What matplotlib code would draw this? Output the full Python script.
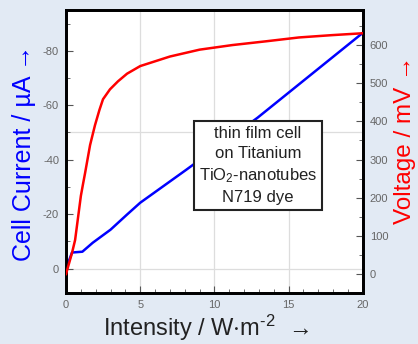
import numpy as np
import matplotlib.pyplot as plt
from matplotlib.ticker import MultipleLocator

plt.rcParams['font.family'] = ['Liberation Sans', 'DejaVu Sans']
plt.rcParams['mathtext.fontset'] = 'custom'
plt.rcParams['mathtext.rm'] = 'Liberation Sans'
plt.rcParams['mathtext.it'] = 'Liberation Sans'
plt.rcParams['mathtext.default'] = 'regular'
plt.rcParams['axes.unicode_minus'] = False

# cell current (left axis, uA) vs intensity (W/m^2)
current_x = [0, 0.4, 1.1, 1.8, 3.0, 4.1, 5.0, 8.1, 12.9, 20.0]
current_y = [0, -5.9, -6.2, -9.5, -14.3, -19.8, -24.2, -36.3, -55.4, -86.6]

# voltage (right axis, mV) vs intensity
voltage_x = [0, 0.13, 0.4, 0.61, 1.0, 1.14, 1.28, 1.62, 1.95, 2.25, 2.49, 2.96, 3.5,
             4.11, 5.0, 7.0, 9.0, 11.2, 13.5, 15.7, 17.9, 20.0]
voltage_y = [0, 18, 55, 89, 205, 235, 264, 338, 390, 430, 458, 484, 505,
             525, 545, 570, 588, 600, 610, 620, 626, 631]

box_text = "thin film cell\non Titanium\nTiO$_2$-nanotubes\nN719 dye"

fig = plt.figure(figsize=(4.18, 3.44), dpi=100)
fig.patch.set_facecolor('#e2eaf4')
ax = fig.add_axes([0.158, 0.148, 0.710, 0.823])
ax2 = ax.twinx()

ax.plot(current_x, current_y, color='blue', lw=1.8, zorder=3)
ax2.plot(voltage_x, voltage_y, color='red', lw=1.8, zorder=3)

ax.set_xlim(0, 20)
ax.set_ylim(9, -95)
ax2.set_ylim(-50, 692)

# light grid
for gx in [5, 10, 15]:
    ax.axvline(gx, color='#dddddd', lw=0.9, zorder=1)
for gy in [0, -50]:
    ax.axhline(gy, color='#dddddd', lw=0.9, zorder=1)

ax.xaxis.set_major_locator(MultipleLocator(5))
ax.xaxis.set_minor_locator(MultipleLocator(1))
ax.yaxis.set_major_locator(MultipleLocator(20))
ax.yaxis.set_minor_locator(MultipleLocator(10))
ax2.yaxis.set_major_locator(MultipleLocator(100))
ax2.yaxis.set_minor_locator(MultipleLocator(50))

for a in (ax, ax2):
    a.tick_params(which='both', direction='in', labelsize=8, labelcolor='#666666',
                  color='#555555')
    a.tick_params(which='major', length=5, width=0.8, pad=5)
    a.tick_params(which='minor', length=3, width=0.6)
    for sp in a.spines.values():
        sp.set_linewidth(2)
        sp.set_color('black')

fig.text(0.493, 0.047, 'Intensity / W$\\cdot$m$^{\\text{-}2}$  \u2192', fontsize=17,
         color='#222222', ha='center', va='center')
fig.text(0.057, 0.555, 'Cell Current / \u00b5A \u2192', fontsize=18, color='blue',
         ha='center', va='center', rotation=90)
fig.text(0.968, 0.593, 'Voltage / mV \u2192', fontsize=17.5, color='red',
         ha='center', va='center', rotation=90)

ax2.text(0.646, 0.45, box_text, transform=ax.transAxes, ha='center', va='center',
         fontsize=12, color='#222222', linespacing=1.4, zorder=5,
         bbox=dict(boxstyle='square,pad=0.3', facecolor='white', edgecolor='#222222', lw=1.5))

fig.savefig('out.png', dpi=100, facecolor=fig.get_facecolor())
